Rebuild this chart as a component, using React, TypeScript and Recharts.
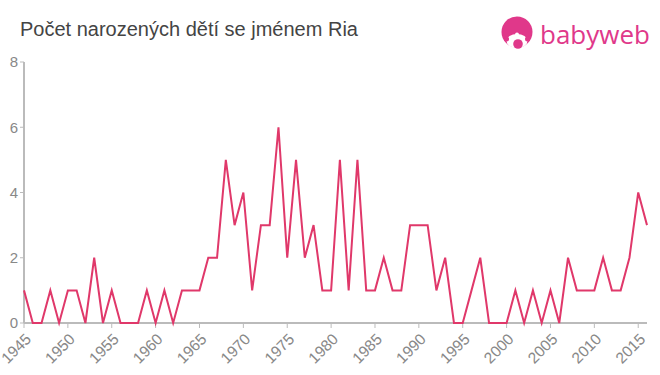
import { LineChart, Line, XAxis, YAxis } from "recharts";

const years = [
  1945, 1946, 1947, 1948, 1949, 1950, 1951, 1952, 1953, 1954, 1955, 1956, 1957, 1958, 1959, 1960,
  1961, 1962, 1963, 1964, 1965, 1966, 1967, 1968, 1969, 1970, 1971, 1972, 1973, 1974, 1975, 1976,
  1977, 1978, 1979, 1980, 1981, 1982, 1983, 1984, 1985, 1986, 1987, 1988, 1989, 1990, 1991, 1992,
  1993, 1994, 1995, 1996, 1997, 1998, 1999, 2000, 2001, 2002, 2003, 2004, 2005, 2006, 2007, 2008,
  2009, 2010, 2011, 2012, 2013, 2014, 2015, 2016,
];

const births = [
  1, 0, 0, 1, 0, 1, 1, 0, 2, 0, 1, 0, 0, 0, 1, 0,
  1, 0, 1, 1, 1, 2, 2, 5, 3, 4, 1, 3, 3, 6, 2, 5,
  2, 3, 1, 1, 5, 1, 5, 1, 1, 2, 1, 1, 3, 3, 3, 1,
  2, 0, 0, 1, 2, 0, 0, 0, 1, 0, 1, 0, 1, 0, 2, 1,
  1, 1, 2, 1, 1, 2, 4, 3,
];

const xTicks = [1945, 1950, 1955, 1960, 1965, 1970, 1975, 1980, 1985, 1990, 1995, 2000, 2005, 2010, 2015];
const yTicks = [0, 2, 4, 6, 8];

const data = years.map((year, i) => ({ year, count: births[i] }));

const font = "'Liberation Sans', Arial, sans-serif";

function RotatedTick({ x, y, payload }: any) {
  return (
    <g transform={`translate(${x + 1},${y + 3})`}>
      <text
        x={0}
        y={0}
        dy={10}
        textAnchor="end"
        transform="rotate(-45)"
        fill="#888"
        fontSize={15.5}
        fontFamily={font}
      >
        {payload.value}
      </text>
    </g>
  );
}

function Logo() {
  return (
    <svg width={165} height={44} style={{ position: "absolute", left: 495, top: 10 }}>
      <circle cx={22} cy={22} r={15.5} fill="#e0388a" />
      <ellipse cx={22} cy={31} rx={10.5} ry={7} fill="#fff" />
      <circle cx={11.5} cy={29} r={2.5} fill="#e0388a" />
      <circle cx={32.5} cy={29} r={2.5} fill="#e0388a" />
      <circle cx={22} cy={24.5} r={2} fill="#fff" />
      <circle cx={23} cy={34} r={4.8} fill="#e0388a" />
      <text x={45} y={34} fill="#e0388a" fontSize={26} fontFamily="'Open Sans', Arial, sans-serif">
        babyweb
      </text>
    </svg>
  );
}

export default function App() {
  return (
    <div style={{ position: "absolute", left: 0, top: 0, width: 660, height: 375, background: "#fff" }}>
      <div
        style={{
          position: "absolute",
          left: 20,
          top: 18,
          fontFamily: font,
          fontSize: 20,
          color: "#444",
        }}
      >
        Počet narozených dětí se jménem Ria
      </div>
      <Logo />
      <LineChart
        width={660}
        height={375}
        data={data}
        margin={{ top: 62, right: 13, left: 0, bottom: 0 }}
        style={{ position: "absolute", left: 0, top: 0 }}
      >
        <XAxis
          dataKey="year"
          type="number"
          domain={[1945, 2016]}
          ticks={xTicks}
          interval={0}
          height={52}
          tick={<RotatedTick />}
          tickSize={5}
          axisLine={{ stroke: "#bbb", strokeWidth: 2 }}
          tickLine={{ stroke: "#bbb", strokeWidth: 1 }}
        />
        <YAxis
          domain={[0, 8]}
          ticks={yTicks}
          width={24}
          tickSize={4}
          tickMargin={2}
          axisLine={{ stroke: "#bbb", strokeWidth: 2 }}
          tickLine={{ stroke: "#bbb", strokeWidth: 1 }}
          tick={{ fill: "#888", fontSize: 15, fontFamily: font }}
        />
        <Line
          type="linear"
          dataKey="count"
          stroke="#e0386a"
          strokeWidth={2}
          dot={false}
          isAnimationActive={false}
          zIndex={1000}
        />
      </LineChart>
    </div>
  );
}
